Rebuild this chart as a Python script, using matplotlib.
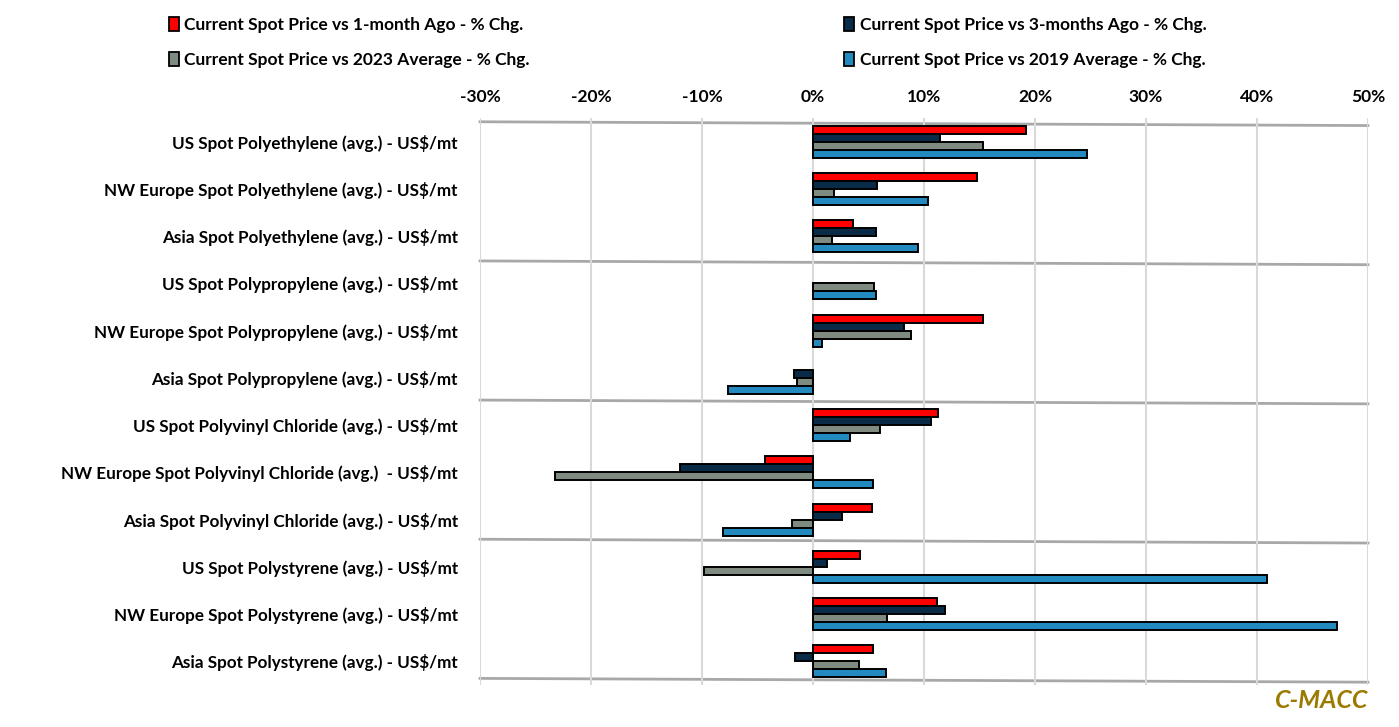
import numpy as np
import matplotlib.pyplot as plt
from matplotlib.patches import Patch

# categories (top to bottom)
products = [
    "US Spot Polyethylene (avg.) - US$/mt",
    "NW Europe Spot Polyethylene (avg.) - US$/mt",
    "Asia Spot Polyethylene (avg.) - US$/mt",
    "US Spot Polypropylene (avg.) - US$/mt",
    "NW Europe Spot Polypropylene (avg.) - US$/mt",
    "Asia Spot Polypropylene (avg.) - US$/mt",
    "US Spot Polyvinyl Chloride (avg.) - US$/mt",
    "NW Europe Spot Polyvinyl Chloride (avg.)  - US$/mt",
    "Asia Spot Polyvinyl Chloride (avg.) - US$/mt",
    "US Spot Polystyrene (avg.) - US$/mt",
    "NW Europe Spot Polystyrene (avg.) - US$/mt",
    "Asia Spot Polystyrene (avg.) - US$/mt",
]

# % change values (nan = no bar shown)
nan = np.nan
chg_1m = [19.2, 14.8, 3.6, nan, 15.3, nan, 11.3, -4.3, 5.3, 4.2, 11.2, 5.4]
chg_3m = [11.4, 5.8, 5.7, nan, 8.2, -1.7, 10.6, -12.0, 2.6, 1.3, 11.9, -1.6]
chg_2023 = [15.3, 1.9, 1.75, 5.5, 8.8, -1.4, 6.0, -23.2, -1.9, -9.8, 6.7, 4.1]
chg_2019 = [24.7, 10.4, 9.5, 5.7, 0.8, -7.7, 3.3, 5.4, -8.1, 40.9, 47.2, 6.6]

series_names = [
    "Current Spot Price vs 1-month Ago - % Chg.",
    "Current Spot Price vs 3-months Ago - % Chg.",
    "Current Spot Price vs 2023 Average - % Chg.",
    "Current Spot Price vs 2019 Average - % Chg.",
]
colors = ["#FF0000", "#0A2B47", "#7F8B80", "#238ABF"]
xticks = [-30, -20, -10, 0, 10, 20, 30, 40, 50]

fnt = "Lato"

fig = plt.figure(figsize=(13.99, 7.27), dpi=100)
ax = fig.add_axes([480 / 1399, (727 - 685) / 727, 888 / 1399, 567 / 727])

y = np.arange(len(products))
h = 0.17
all_series = [chg_1m, chg_3m, chg_2023, chg_2019]
for k, vals in enumerate(all_series):
    ax.barh(y + (k - 1.5) * h, vals, height=h, color=colors[k],
            edgecolor="black", linewidth=1.4, zorder=3)

ax.set_xlim(-30, 50)
ax.set_ylim(11.5, -0.5)
ax.set_xticks(xticks)
ax.set_xticklabels([f"{t}%" for t in xticks], fontfamily=fnt,
                   fontweight="bold", fontsize=12.5)
ax.xaxis.tick_top()
ax.tick_params(axis="x", length=0, pad=9)
ax.set_yticks(y)
ax.set_yticklabels(products, fontfamily=fnt, fontweight="bold", fontsize=12.3)
ax.tick_params(axis="y", length=0, pad=16)
for s in ax.spines.values():
    s.set_visible(False)
ax.grid(axis="x", color="#D9D9D9", linewidth=1.5, zorder=0)

# group separators (slightly tilted like the original)
for b in np.linspace(-0.42, 11.36, 5):
    ax.plot([-30, 50], [b, b + 0.08], color="#A8A8A8", linewidth=2,
            zorder=1, clip_on=False)

handles = [Patch(facecolor=colors[i], edgecolor="black", linewidth=1.3)
           for i in range(4)]
order = [0, 2, 1, 3]
fig.legend([handles[i] for i in order], [series_names[i] for i in order],
           loc="upper left", bbox_to_anchor=(153 / 1399, 1 - 1 / 727),
           ncol=2, frameon=False, handlelength=0.6, handleheight=0.9,
           handletextpad=0.3, columnspacing=18.1, labelspacing=1.1,
           prop={"family": fnt, "weight": "bold", "size": 12.5})

fig.text(1368 / 1399, 1 - 700 / 727, "C-MACC", ha="right", va="center",
         fontfamily=fnt, fontweight="bold", fontstyle="italic",
         fontsize=18, color="#9C7A00")

fig.savefig("out.png", dpi=100)
